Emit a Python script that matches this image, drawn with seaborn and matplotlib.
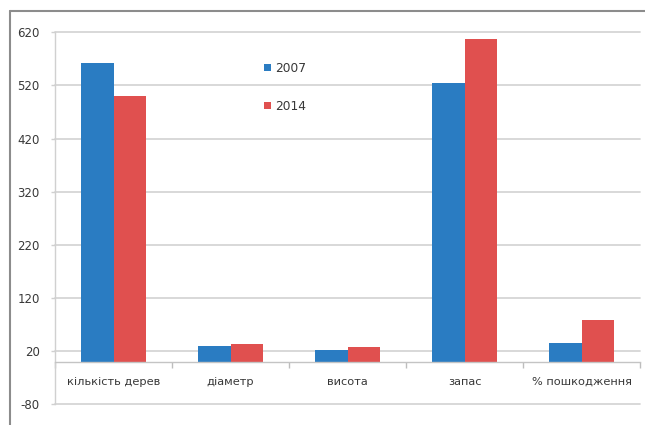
import matplotlib
matplotlib.use("Agg")
import matplotlib.pyplot as plt
from matplotlib.lines import Line2D
import pandas as pd
import seaborn as sns

# Forest inventory indicators for two survey years
categories = ["кількість дерев", "діаметр", "висота", "запас", "% пошкодження"]
years = ["2007", "2014"]
values_2007 = [562, 30, 22, 525, 36]
values_2014 = [500, 33, 28, 607, 78]
y_ticks = [-80, 20, 120, 220, 320, 420, 520, 620]

df = pd.DataFrame({
    "category": categories * 2,
    "year": [years[0]] * len(categories) + [years[1]] * len(categories),
    "value": values_2007 + values_2014,
})

sns.set_theme(style="white")
plt.rcParams["font.family"] = ["DejaVu Sans"]

text_color = "#383838"
grid_color = "#d6d6d6"
palette = {"2007": "#2a7cc2", "2014": "#e0504f"}

fig = plt.figure(figsize=(6.45, 4.25), dpi=100)
ax = fig.add_axes([55 / 645, 1 - 404.3 / 425, 585 / 645, (404.3 - 32.3) / 425])

sns.barplot(data=df, x="category", y="value", hue="year", order=categories,
            hue_order=years, palette=palette, width=0.556, gap=0,
            saturation=1, ax=ax, edgecolor="none")

ax.set_xlim(-0.5, len(categories) - 0.5)
ax.set_ylim(y_ticks[0], y_ticks[-1])
ax.set_yticks(y_ticks)
ax.set_yticklabels([str(t) for t in y_ticks])
ax.set_xlabel("")
ax.set_ylabel("")

# horizontal gridlines
ax.yaxis.grid(True, color=grid_color, linewidth=1.3)
ax.xaxis.grid(False)
ax.set_axisbelow(True)
for gl in ax.get_ygridlines():
    gl.set_clip_on(False)

# category axis crosses at zero
for s in ["top", "right"]:
    ax.spines[s].set_visible(False)
ax.spines["bottom"].set_position(("data", 0))
ax.spines["bottom"].set_color("#c4c4c4")
ax.spines["bottom"].set_linewidth(1.0)
ax.spines["left"].set_color("#d0d0d0")
ax.spines["left"].set_linewidth(1.0)

ax.tick_params(axis="x", which="major", length=0, pad=11, labelsize=8.2,
               labelcolor=text_color)
ax.set_xticks([i - 0.5 for i in range(len(categories) + 1)], minor=True)
ax.tick_params(axis="x", which="minor", length=4, width=1, color="#bdbdbd",
               direction="out")
ax.tick_params(axis="y", length=3, width=1, color="#d0d0d0", pad=8,
               labelsize=8.5, labelcolor=text_color)
ax.yaxis.set_ticks_position("left")
ax.xaxis.set_ticks_position("bottom")

handles, labels = ax.get_legend_handles_labels()
ax.legend(handles, labels, loc="upper left",
          bbox_to_anchor=(264 / 645, 1 - 62 / 425),
          bbox_transform=fig.transFigure, frameon=False, fontsize=8.8,
          handlelength=0.55, handleheight=0.55, handletextpad=0.35,
          labelspacing=2.05, borderpad=0, borderaxespad=0,
          labelcolor=text_color)

# outer chart border (top and left edges)
border = "#8c8c8c"
fig.add_artist(Line2D([9.5 / 645, 1], [1 - 11 / 425, 1 - 11 / 425],
                      transform=fig.transFigure, color=border, linewidth=1.5))
fig.add_artist(Line2D([9.5 / 645, 9.5 / 645], [0, 1 - 11 / 425],
                      transform=fig.transFigure, color=border, linewidth=1.5))

fig.savefig("out.png", dpi=100)
